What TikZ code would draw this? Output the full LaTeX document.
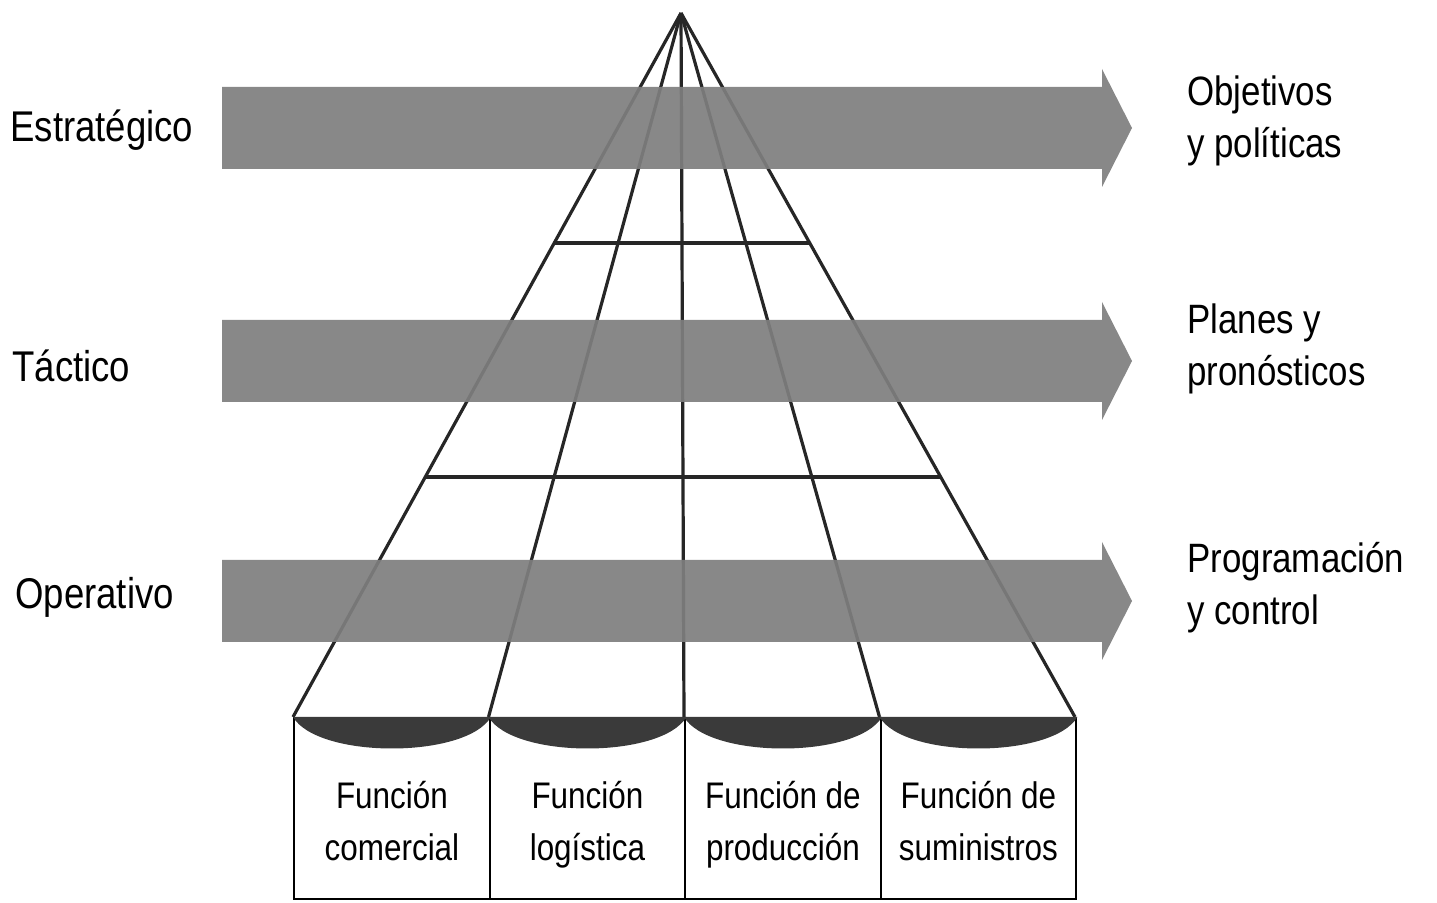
\documentclass[tikz,border=0pt]{standalone}
\usepackage{fontspec}
\setmainfont{Liberation Sans}[FakeStretch=0.85]
\usetikzlibrary{calc}
\definecolor{bandgray}{HTML}{7E7E7E}
\definecolor{lensgray}{HTML}{3A3A3A}

\begin{document}
\begin{tikzpicture}[
  x=0.5pt, y=-0.5pt,
  fan/.style={line width=1.6pt, black!85},
  band/.style={fill=bandgray, fill opacity=0.92},
  lens/.style={fill=lensgray},
  funcbox/.style={draw, line width=1.2pt, minimum width=97.75pt, minimum height=90.5pt, anchor=north west, inner sep=0pt},
  level/.style={font=\fontsize{21.5}{26}\selectfont, anchor=base west, inner sep=0pt},
  goal/.style={font=\fontsize{20.5}{26}\selectfont, align=left, anchor=west, inner sep=0pt},
  functext/.style={font=\fontsize{18.5}{26}\selectfont, align=center, anchor=north, inner sep=0pt},
]
\useasboundingbox (0,0) rectangle (1437,903);

% pyramid
\coordinate (apex) at (681,13);
\foreach \x [count=\i] in {293,488.5,684,879.5,1075}
  \coordinate (b\i) at (\x,717);
\foreach \i in {1,...,5}
  \draw[fan] (apex) -- (b\i);
\draw[fan] ($(apex)!0.3267!(b1)$) -- ($(apex)!0.3267!(b5)$);
\draw[fan] ($(apex)!0.659!(b1)$) -- ($(apex)!0.659!(b5)$);

% level bands
\foreach \y in {128,361,601}
  \fill[band] (222,\y-41) -- (1102,\y-41) -- (1102,\y-59) -- (1132,\y)
    -- (1102,\y+59) -- (1102,\y+41) -- (222,\y+41) -- cycle;

% function boxes
\foreach \i in {1,...,4}
  \node[funcbox] (f\i) at (b\i) {};
\foreach \i in {1,...,4}
  \fill[lens] (f\i.north west) .. controls +(25,42) and +(-25,42) .. (f\i.north east) -- cycle;

\node[functext] (t1) at ($(f1.north)+(0,64)$) {Función\\comercial};
\node[functext] (t2) at ($(f2.north)+(0,64)$) {Función\\logística};
\node[functext] (t3) at ($(f3.north)+(0,64)$) {Función de\\producción};
\node[functext] (t4) at ($(f4.north)+(0,64)$) {Función de\\suministros};

\node[level] (estr) at (10,142) {Estratégico};
\node[level] (tact) at (12,382) {Táctico};
\node[level] (oper) at (15,609) {Operativo};

\node[goal] (obj) at (1187,121) {Objetivos\\y políticas};
\node[goal] (plan) at (1187,349) {Planes y\\pronósticos};
\node[goal] (prog) at (1187,588) {Programación\\y control};
\end{tikzpicture}
\end{document}
